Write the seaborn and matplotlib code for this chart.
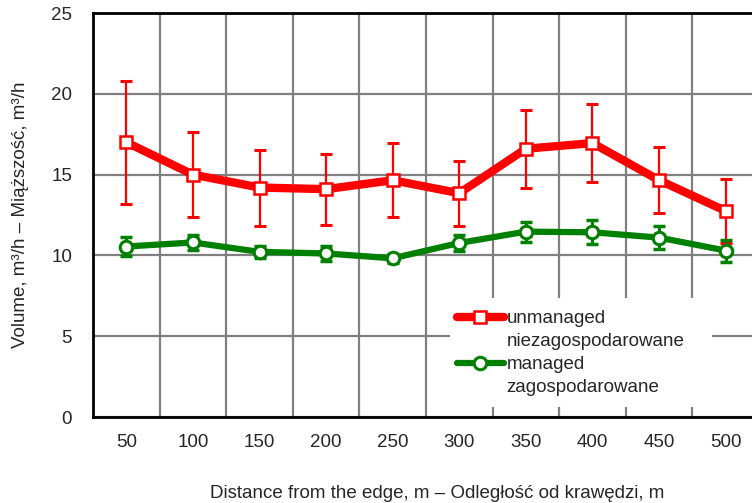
import numpy as np
import pandas as pd
import matplotlib
matplotlib.use("Agg")
import matplotlib.pyplot as plt
from matplotlib.lines import Line2D
from matplotlib.patches import Rectangle
import seaborn as sns

# ---- data ----
distances = ["50", "100", "150", "200", "250", "300", "350", "400", "450", "500"]
unmanaged = [17.0, 15.0, 14.2, 14.1, 14.65, 13.85, 16.6, 16.95, 14.65, 12.75]
unmanaged_err = [3.8, 2.65, 2.35, 2.2, 2.3, 2.0, 2.4, 2.4, 2.05, 2.0]
managed = [10.55, 10.8, 10.22, 10.12, 9.82, 10.77, 11.47, 11.43, 11.1, 10.3]
managed_err = [0.6, 0.46, 0.38, 0.48, 0.28, 0.5, 0.62, 0.75, 0.72, 0.68]
series_names = ["unmanaged\nniezagospodarowane", "managed\nzagospodarowane"]
y_ticks = [0, 5, 10, 15, 20, 25]

RED = "#FF0000"
GREEN = "#008000"
FS = 13.5

sns.set_style("white")
plt.rcParams["font.family"] = ["Liberation Sans", "DejaVu Sans"]

fig = plt.figure(figsize=(7.52, 5.03), dpi=100)
ax = fig.add_axes([93 / 752, (503 - 417) / 503, 666 / 752, 404 / 503])

pos = np.arange(len(distances))
df = pd.DataFrame({"pos": pos, "unmanaged": unmanaged, "managed": managed})

# error bars
ax.errorbar(pos, unmanaged, yerr=unmanaged_err, fmt="none", ecolor=RED,
            elinewidth=1.6, capsize=4.5, capthick=2.2, zorder=3)
ax.errorbar(pos, managed, yerr=managed_err, fmt="none", ecolor=GREEN,
            elinewidth=2.2, capsize=4.0, capthick=2.5, zorder=4)

sns.lineplot(data=df, x="pos", y="unmanaged", ax=ax, color=RED, linewidth=6,
             marker="s", markersize=9, markerfacecolor="white",
             markeredgecolor=RED, markeredgewidth=1.8, zorder=5)
sns.lineplot(data=df, x="pos", y="managed", ax=ax, color=GREEN, linewidth=4.5,
             marker="o", markersize=9, markerfacecolor="white",
             markeredgecolor=GREEN, markeredgewidth=2.2, zorder=6)

ax.set_xlim(-0.5, len(distances) - 0.5)
ax.set_ylim(0, 25)
ax.set_xticks(pos)
ax.set_xticklabels(distances)
ax.set_xticks(np.arange(-0.5, len(distances), 1.0), minor=True)
ax.set_yticks(y_ticks)
ax.set_yticklabels([str(t) for t in y_ticks])

ax.grid(False)
ax.grid(True, which="minor", axis="x", color="#808080", linewidth=1.6)
ax.grid(True, which="major", axis="y", color="#808080", linewidth=1.6)
ax.set_axisbelow(True)

ax.tick_params(axis="x", which="both", length=0, labelsize=FS, pad=12)
ax.tick_params(axis="y", which="both", length=0, labelsize=FS, pad=15)

for s in ["left", "bottom", "top", "right"]:
    ax.spines[s].set_visible(True)
    ax.spines[s].set_color("black")
    ax.spines[s].set_linewidth(2)

ax.set_xlabel("Distance from the edge, m – Odległość od krawędzi, m",
              fontsize=FS, labelpad=25, x=0.517)
ax.set_ylabel("Volume, m³/h – Miąższość, m³/h", fontsize=FS, labelpad=16)

# white legend background box (no border)
fig.add_artist(Rectangle((450 / 752, (503 - 407) / 503), 262 / 752, 109 / 503,
                         transform=fig.transFigure, facecolor="white",
                         edgecolor="none", zorder=1))

# legend: handle aligned with first text line
h_red = Line2D([], [], color=RED, linewidth=6, marker="s", markersize=9,
               markerfacecolor="white", markeredgecolor=RED, markeredgewidth=1.8)
h_green = Line2D([], [], color=GREEN, linewidth=4.5, marker="o", markersize=9,
                 markerfacecolor="white", markeredgecolor=GREEN, markeredgewidth=2.2)
h_empty = Line2D([], [], linestyle="none")
red_lines = series_names[0].split("\n")
green_lines = series_names[1].split("\n")
fig.legend([h_red, h_empty, h_green, h_empty],
           [red_lines[0], red_lines[1], green_lines[0], green_lines[1]],
           loc="upper left", bbox_to_anchor=(457 / 752, (503 - 310) / 503),
           frameon=False, fontsize=FS, handlelength=2.5, handletextpad=0.15,
           labelspacing=0.32, borderpad=0, borderaxespad=0)

fig.savefig("out.png", dpi=100)
